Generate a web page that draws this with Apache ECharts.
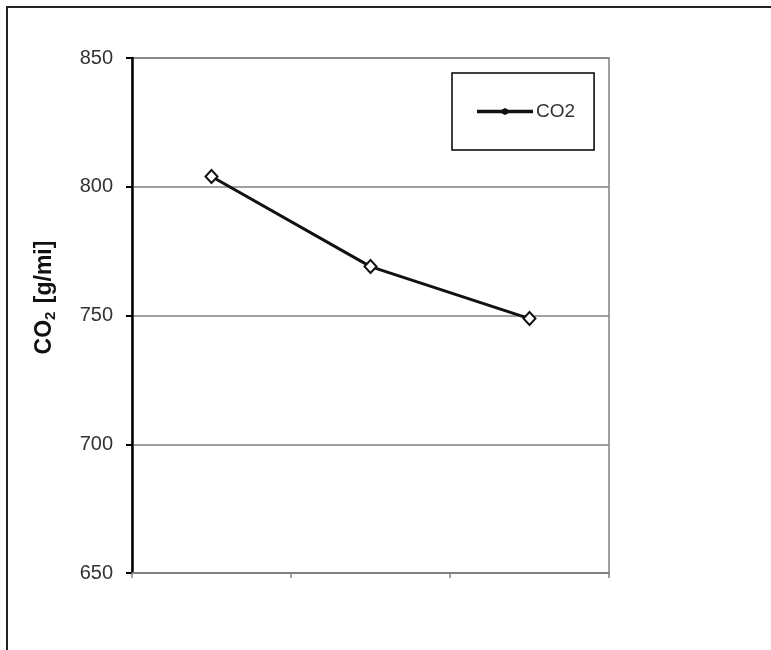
<!DOCTYPE html>
<html>
<head>
<meta charset="utf-8">
<script src="https://cdn.jsdelivr.net/npm/echarts@6/dist/echarts.min.js"></script>
<style>
html,body{margin:0;padding:0;background:#fff;}
#chart{width:771px;height:650px;}
</style>
</head>
<body>
<div id="chart"></div>
<script>
var categories = ['A', 'B', 'C'];
var co2Values = [804, 769, 748.8];
var yTicks = [650, 700, 750, 800, 850];

var chart = echarts.init(document.getElementById('chart'), null, {renderer: 'canvas'});
var legendIcon = 'path://M0,1.8L24.5,1.8L28,0L31.5,1.8L56,1.8L56,5.2L31.5,5.2L28,7L24.5,5.2L0,5.2Z';
var option = {
  animation: false,
  backgroundColor: '#fff',
  graphic: [{
    type: 'polyline',
    shape: {points: [[7, 650], [7, 7], [771, 7]]},
    style: {stroke: '#222', lineWidth: 2, fill: null},
    silent: true
  }],
  grid: {
    left: 132, top: 58, right: 162, bottom: 77,
    show: true, borderColor: '#808080', borderWidth: 1.5
  },
  legend: {
    left: 452, top: 73,
    orient: 'horizontal',
    padding: [29, 19, 29, 25],
    borderColor: '#000', borderWidth: 1.5,
    itemWidth: 56, itemHeight: 7, itemGap: 0,
    symbolKeepAspect: false,
    itemStyle: {color: '#111', borderWidth: 0},
    textStyle: {fontFamily: 'Liberation Sans, Arial, sans-serif', fontSize: 19, color: '#333', padding: [0, 0, 0, -2]},
    data: [{name: 'CO2', icon: legendIcon}]
  },
  xAxis: {
    type: 'category',
    data: categories,
    boundaryGap: true,
    axisLine: {lineStyle: {color: '#808080', width: 2}},
    axisTick: {show: true, length: 5, lineStyle: {color: '#808080', width: 1.5}},
    axisLabel: {show: false},
    splitLine: {show: false}
  },
  yAxis: {
    type: 'value',
    min: yTicks[0], max: yTicks[yTicks.length - 1], interval: 50,
    name: '{a|CO}{b|2}{a| [g/mi]}',
    nameLocation: 'middle',
    nameRotate: 90,
    nameGap: 74,
    nameTextStyle: {
      padding: [0, 0, 0, 36],
      rich: {
        a: {fontFamily: 'Liberation Sans, Arial, sans-serif', fontSize: 23, fontWeight: 'bold', color: '#111'},
        b: {fontFamily: 'Liberation Sans, Arial, sans-serif', fontSize: 15, fontWeight: 'bold', color: '#111', padding: [11, 2, 0, 0]}
      }
    },
    axisLine: {show: true, lineStyle: {color: '#000', width: 2.5}},
    axisTick: {show: true, length: 6, lineStyle: {color: '#000', width: 2}},
    axisLabel: {fontFamily: 'Liberation Sans, Arial, sans-serif', fontSize: 20, color: '#333', margin: 19},
    splitLine: {show: true, lineStyle: {color: '#808080', width: 1.5}}
  },
  series: [{
    name: 'CO2',
    type: 'line',
    data: co2Values,
    symbol: 'emptyDiamond',
    symbolSize: [12, 13],
    lineStyle: {color: '#111', width: 3},
    itemStyle: {color: '#111', borderColor: '#333', borderWidth: 1.2}
  }]
};
chart.setOption(option);
</script>
</body>
</html>
